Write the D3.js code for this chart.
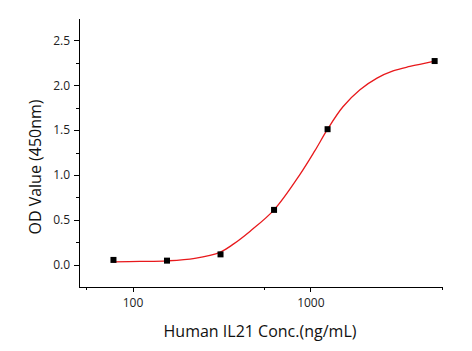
<!DOCTYPE html>
<meta charset="utf-8">
<head>
<style>
body { margin: 0; background: #fff; }
.axis text { font: 12px "Open Sans", sans-serif; fill: #222; }
.axis path, .axis line { fill: none; stroke: #000; stroke-width: 1; shape-rendering: crispEdges; }
.label { font: 16px "Open Sans", sans-serif; fill: #111; }
</style>
</head>
<body>
<script src="https://d3js.org/d3.v7.min.js"></script>
<script>
// measured points (conc in ng/mL, OD at 450nm)
var conc = [78.125, 156.25, 312.5, 625, 1250, 5000];
var od = [0.052, 0.044, 0.114, 0.61, 1.51, 2.27];

// fitted curve
var fitConc = [78.1, 110, 156, 224, 312, 367, 457, 625, 871, 1061, 1250, 1525, 1901, 2371, 2919, 3630, 5000];
var fitOd = [0.03, 0.035, 0.042, 0.07, 0.14, 0.225, 0.37, 0.61, 1.0, 1.27, 1.51, 1.76, 1.95, 2.08, 2.16, 2.21, 2.27];

var xMajor = [100, 1000];
var xMinor = [55, 550, 5500];
var yMajor = [0, 0.5, 1.0, 1.5, 2.0, 2.5];
var yMinor = [0.25, 0.75, 1.25, 1.75, 2.25];

var margin = { top: 18, right: 30, bottom: 64, left: 79 },
    width = 442 - margin.left,
    height = 287 - margin.top;

var svg = d3.select("body").append("svg")
    .attr("width", 472)
    .attr("height", 351)
    .append("g")
    .attr("transform", "translate(" + margin.left + "," + margin.top + ")");

var x = d3.scaleLog().domain([50, 5500]).range([0, width]);
var y = d3.scaleLinear().domain([-0.25, 2.75]).range([height, 0]);

// minor ticks first, then the main axes
svg.append("g")
    .attr("class", "axis")
    .attr("transform", "translate(0," + height + ")")
    .call(d3.axisBottom(x).tickValues(xMinor).tickSize(3).tickFormat(""))
    .select(".domain").remove();
svg.append("g")
    .attr("class", "axis")
    .call(d3.axisLeft(y).tickValues(yMinor).tickSize(3).tickFormat(""))
    .select(".domain").remove();

svg.append("g")
    .attr("class", "axis")
    .attr("transform", "translate(0," + height + ")")
    .call(d3.axisBottom(x).tickValues(xMajor).tickSize(5).tickSizeOuter(0).tickPadding(6)
        .tickFormat(d3.format("d")));

svg.append("g")
    .attr("class", "axis")
    .call(d3.axisLeft(y).tickValues(yMajor).tickSize(5).tickSizeOuter(0).tickPadding(4)
        .tickFormat(d3.format(".1f")));

// fitted curve
var fit = fitConc.map(function(c, i) { return [c, fitOd[i]]; });
svg.append("path")
    .datum(fit)
    .attr("fill", "none")
    .attr("stroke", "#e8191c")
    .attr("stroke-width", 1.3)
    .attr("d", d3.line()
        .x(function(d) { return x(d[0]); })
        .y(function(d) { return y(d[1]); })
        .curve(d3.curveCatmullRom.alpha(0.5)));

// data squares
var pts = conc.map(function(c, i) { return [c, od[i]]; });
svg.selectAll(".pt")
    .data(pts)
    .enter().append("rect")
    .attr("class", "pt")
    .attr("x", function(d) { return x(d[0]) - 3; })
    .attr("y", function(d) { return y(d[1]) - 3; })
    .attr("width", 6)
    .attr("height", 6)
    .style("fill", "#000");

// axis titles
svg.append("text")
    .attr("class", "label")
    .attr("x", 260 - margin.left)
    .attr("y", 337 - margin.top)
    .style("text-anchor", "middle")
    .text("Human IL21 Conc.(ng/mL)");

svg.append("text")
    .attr("class", "label")
    .attr("transform", "translate(" + (41 - margin.left) + "," + (167 - margin.top) + ") rotate(-90)")
    .style("text-anchor", "middle")
    .text("OD Value (450nm)");
</script>
</body>
